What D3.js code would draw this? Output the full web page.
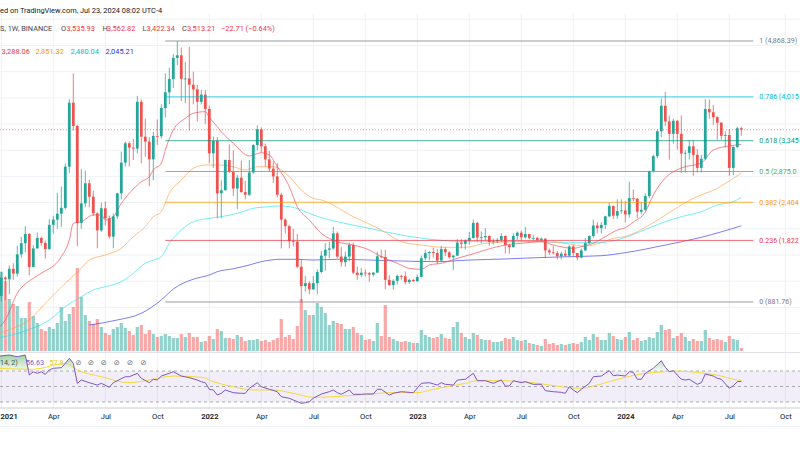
<!DOCTYPE html>
<html><head><meta charset="utf-8">
<script src="https://cdn.jsdelivr.net/npm/d3@7"></script>
<style>
html,body{margin:0;padding:0;background:#fff;}
svg{display:block;font-family:Roboto,"Liberation Sans",sans-serif;}
</style></head>
<body><svg id="c" width="800" height="450"></svg>
<script>
// ---------------- DATA ----------------
const firstWeekStart = "2021-01-04";
const firstOpen = 975;
const closes = [1255,1230,1390,1315,1610,1780,1920,1415,1700,1860,
1785,1690,2060,2140,2230,2320,2948,3926,3570,2090,
2389,2695,2490,2236,1975,2313,2160,1880,2190,2542,
3010,3306,3240,3225,3940,3407,3331,3061,3418,3414,
3845,4085,4288,4610,4650,4290,4295,4200,4130,3940,
4050,3830,3153,3341,2542,2590,3050,2870,2615,2780,
2560,2520,2860,3280,3520,3260,3060,2920,2800,2520,
2140,2040,1810,1805,1420,1125,1170,1075,1170,1340,
1590,1680,1700,1930,1575,1490,1575,1752,1330,1295,
1330,1320,1300,1330,1580,1570,1220,1140,1205,1280,
1275,1185,1220,1200,1265,1550,1628,1645,1630,1515,
1690,1640,1565,1590,1790,1770,1820,1860,2090,1865,
1870,1890,1800,1810,1830,1890,1750,1720,1890,1940,
1870,1920,1860,1860,1830,1850,1670,1640,1630,1580,
1620,1590,1730,1630,1560,1670,1780,1890,2050,2010,
2060,2190,2350,2200,2270,2280,2220,2470,2460,2260,
2290,2500,2880,3110,3490,3880,3640,3450,3650,3450,
3150,3160,3260,3130,2930,3070,3830,3780,3705,3620,
3420,3433,2930,3250,3535.93,3513.21];
const highs = [1350,1275,1440,1475,1745,1875,2040,1935,1750,1945,
1880,1820,2145,2200,2550,2645,3000,3980,4372,3590,
2910,2890,2750,2580,2250,2400,2420,2200,2230,2550,
3180,3335,3335,3375,4030,3975,3680,3400,3480,3670,
3900,4375,4460,4666,4868.39,4770,4550,4780,4400,4200,
4120,4120,3880,3410,3400,2740,3060,3290,3200,2820,
3040,2730,3050,3290,3580,3550,3300,3190,3030,3000,
2550,2160,2060,2000,1920,1530,1280,1200,1280,1380,
1660,1780,1800,2030,1960,1720,1650,1790,1790,1420,
1400,1380,1340,1340,1650,1680,1680,1290,1230,1300,
1300,1350,1240,1230,1300,1590,1680,1660,1710,1690,
1740,1720,1660,1600,1840,1840,1840,1950,2140,2110,
1960,2010,1900,1850,1860,1930,1900,1760,1930,1960,
1975,2030,1920,1900,1880,1870,1850,1700,1740,1660,
1650,1680,1750,1750,1630,1700,1860,1900,2140,2100,
2100,2200,2400,2350,2450,2450,2420,2720,2600,2470,
2400,2540,2890,3130,3520,3990,4093,3730,3680,3660,
3730,3200,3355,3350,3220,3130,3980,3975,3890,3720,
3630,3490,3520,3260,3560,3562.82];
const lows = [890,910,1000,1220,1270,1560,1640,1290,1410,1700,
1740,1545,1680,1930,2000,2030,2300,2850,3500,1735,
2000,2330,2330,2200,1702,1950,2050,1850,1702,2150,
2450,2950,2950,3050,3150,3000,3100,2650,2740,3280,
3380,3700,3900,4150,4500,3950,3920,3500,3900,3640,
3900,3600,3000,2930,2160,2160,2580,2850,2500,2300,
2550,2450,2500,2840,3200,3170,2950,2880,2700,2480,
1700,1930,1700,1730,1400,881.76,1040,1000,1070,1000,
1320,1360,1550,1680,1550,1420,1420,1500,1310,1220,
1260,1270,1190,1270,1330,1550,1080,1130,1070,1150,
1220,1150,1160,1185,1190,1260,1520,1520,1560,1460,
1490,1580,1540,1370,1580,1700,1690,1760,1850,1800,
1780,1820,1740,1760,1780,1800,1625,1620,1710,1830,
1820,1850,1840,1820,1810,1810,1550,1600,1610,1530,
1530,1570,1570,1580,1520,1550,1660,1770,1860,1930,
1930,2000,2180,2150,2150,2230,2100,2170,2420,2165,
2220,2270,2470,2860,3080,3400,3570,3056,3300,3210,
2850,2860,3060,2810,2860,2860,3050,3680,3590,3360,
3360,3240,2810,2820,3230,3422.34];
// weekly volume (hundred-thousand ETH)
const volumes = [79,70,52,47,45,33,33,49,35,28,
22,20,24,22,28,44,30,37,44,83,
54,36,30,27,32,24,18,16,22,24,
28,23,20,16,24,26,17,21,17,14,
15,17,15,13,13,17,14,18,14,14,
9,10,15,12,22,20,13,13,12,16,
14,10,11,11,12,10,11,9,11,13,
32,14,16,12,25,52,41,36,36,48,
44,38,26,30,28,27,22,22,24,18,
16,11,12,10,28,15,46,14,12,10,
9,10,9,8,8,21,16,14,13,14,
17,13,12,24,29,18,14,12,18,16,
12,11,11,9,9,10,13,12,14,11,
10,11,8,7,6,5,12,7,8,6,
7,6,7,8,7,9,14,11,17,14,
11,11,18,15,12,11,14,19,11,13,
10,11,14,13,19,26,21,22,13,15,
18,14,10,12,10,10,21,13,11,12,
11,9,15,12,11,3];
// moving averages [week index, value]
const maRed = [[-1,470],[1,607],[4,1015],[8,1244],[10,1320],[15,1574],[17,1829],[18,2084],[20,2108],[23,2211],[25,2211],[26,2134],[28,2185],[30,2389],[32,2542],[35,2719],[37,2796],[38,2898],[40,3000],[41,3204],[43,3509],[46,3688],[48,3764],[51,3789],[52,3703],[54,3559],[55,3483],[58,3306],[62,3112],[63,3127],[65,3162],[67,3127],[69,2948],[72,2643],[74,2337],[77,2134],[80,1931],[84,1803],[88,1752],[92,1676],[95,1574],[99,1473],[102,1396],[105,1381],[107,1447],[110,1473],[114,1549],[117,1600],[121,1676],[126,1752],[130,1778],[135,1803],[138,1752],[143,1702],[145,1727],[148,1778],[151,1879],[154,1981],[156,2016],[158,2104],[161,2256],[163,2516],[166,2776],[170,2929],[175,3005],[178,3203],[182,3265],[185,3288.06]];
const maOrange = [[-1,400],[3,480],[7,607],[11,862],[16,1168],[20,1396],[22,1523],[26,1600],[30,1702],[33,1879],[36,2032],[38,2185],[40,2261],[42,2542],[45,2745],[48,2923],[51,2974],[54,2974],[58,2948],[61,2898],[64,2948],[68,2948],[72,2796],[75,2592],[78,2465],[80,2440],[88,2185],[95,1981],[100,1803],[105,1752],[111,1717],[116,1717],[121,1778],[130,1803],[136,1803],[142,1768],[146,1737],[150,1788],[153,1855],[156,1880],[162,2058],[168,2287],[173,2466],[179,2618],[183,2771],[185,2851.32]];
const maCyan = [[-1,330],[6,440],[12,607],[16,810],[20,963],[23,1065],[26,1116],[30,1192],[33,1320],[36,1473],[38,1523],[40,1574],[42,1778],[45,1981],[48,2108],[52,2160],[55,2185],[59,2236],[63,2313],[67,2338],[69,2348],[72,2338],[75,2287],[78,2211],[84,2108],[92,2007],[100,1905],[109,1829],[117,1803],[125,1803],[134,1803],[142,1788],[150,1790],[156,1868],[161,1990],[166,2108],[170,2185],[175,2261],[179,2364],[183,2414],[185,2480.04]];
const maBlue = [[22,530],[29,607],[35,709],[40,913],[43,1080],[48,1230],[52,1294],[54,1345],[58,1390],[62,1447],[65,1498],[70,1534],[74,1534],[78,1523],[84,1534],[92,1523],[100,1508],[109,1498],[117,1523],[126,1539],[134,1559],[142,1574],[150,1589],[156,1635],[166,1752],[175,1870],[185,2045.21]];
// RSI (14) and its SMA, [week index, value]
const rsiValues = [[-1,89],[2,90.6],[4,88.5],[6,90.6],[7,64.8],[8,69],[9,67],[10,69],[11,65.7],[12,71.3],[13,73.5],[15,74.3],[16,79.9],[17,86.4],[18,80],[19,54],[20,58.4],[22,54.9],[24,51.9],[25,54.1],[27,49],[28,54.9],[31,62.6],[32,62.6],[34,67],[35,60.6],[37,54.9],[38,59.3],[39,58.4],[40,63.5],[42,67],[43,69.1],[45,63.5],[47,61.4],[49,58.4],[50,56.2],[51,54.9],[52,46.4],[53,45.5],[54,39],[55,41.2],[56,45.5],[58,42],[60,41.2],[61,41.2],[62,47.7],[64,54.9],[65,49.7],[67,46.4],[69,43.3],[70,36.8],[72,34.8],[73,32.6],[75,28.3],[76,29.1],[77,30.4],[78,34.8],[80,40.3],[82,43.3],[83,45.5],[84,42],[85,39.9],[87,45.5],[88,39.9],[90,39.9],[91,40.3],[93,40.3],[94,46.4],[95,46.4],[97,39],[98,41.2],[100,43.3],[103,42],[105,54.1],[107,54.9],[109,51.9],[110,54.9],[111,52.8],[113,51.9],[114,58.4],[116,59.3],[118,67],[119,57.5],[121,57.5],[123,54.1],[125,58.4],[126,50.6],[127,50.6],[128,57.5],[130,54.9],[131,56.2],[133,52.8],[135,52.8],[136,44.6],[138,43.3],[140,42.5],[141,41.2],[142,49.7],[143,45.5],[144,42],[145,46.4],[147,54.1],[148,62.6],[150,63.5],[151,67],[152,70.4],[153,63.9],[154,64.8],[156,63.5],[157,69.1],[158,68.3],[159,59.3],[160,59.3],[161,67],[163,73.5],[165,83.3],[166,74.8],[167,69.1],[168,70.4],[170,59.3],[171,58.4],[172,59.3],[174,52.8],[175,54.9],[176,66.1],[178,63.5],[179,60.6],[180,59.3],[182,47.7],[183,51],[184,56.2],[185,56.63]];
const rsiSma = [[-1,73.5],[8,72.2],[16,79.9],[19,71.3],[25,62.6],[32,54.9],[37,58.4],[43,63.5],[50,61.9],[53,56.2],[58,49.7],[63,45.5],[68,45.5],[73,41.2],[78,36.1],[83,36.8],[91,39.9],[100,42.5],[104,42],[108,46.4],[116,54.1],[119,57.5],[125,57.5],[130,56.2],[133,54.9],[137,51.9],[141,49],[145,47.7],[148,50.6],[152,56.2],[156,61.9],[161,67],[166,69.1],[169,70],[172,69.1],[176,67],[180,63.5],[183,59.3],[185,57.8]];
// Fibonacci retracement
const fibLow = 881.76, fibHigh = 4868.39;
const fibLevels = [1, 0.786, 0.618, 0.5, 0.382, 0.236, 0];
const fibColors = ["#787b86","#00bcd4","#089981","#4caf50","#ff9800","#f23645","#787b86"];
const fibStartWeek = 41, fibEndWeek = 188;
// axes
const tickDates = ["2021-01-04","2021-04-05","2021-07-05","2021-10-04","2022-01-03","2022-04-04","2022-07-04","2022-10-03","2023-01-02","2023-04-03","2023-07-03","2023-10-02","2024-01-01","2024-04-01","2024-07-01","2024-10-07"];
const tickLabels = ["2021","Apr","Jul","Oct","2022","Apr","Jul","Oct","2023","Apr","Jul","Oct","2024","Apr","Jul","Oct"];
const priceGrid = [400,800,1200,1600,2000,2400,2800,3200,3600,4000,4400,4800,5200];
const rsiLevels = [70,50,30];
// legend
const headerLine = "ed on TradingView.com, Jul 23, 2024 08:02 UTC-4";
const symbolText = "S, 1W, BINANCE";
const ohlcKeys = ["O","H","L","C"];
const ohlcVals = [3535.93,3562.82,3422.34,3513.21];
const changeText = "\u221222.71 (\u22120.64%)";
const maLegend = [3288.06,2851.32,2480.04,2045.21];
const maColors = ["#f23645","#ff9800","#00bcd4","#3030d8"];
const rsiLegend = ["14, 2)", "56.63", "57.8"];
const lastPrice = 3513.21;

// ---------------- CHART ----------------
const svg = d3.select("#c");
const W = 800;
const paneTop = 14, paneBottom = 352, rsiTop = 353, rsiBottom = 408;
const UP = "#26a69a", DOWN = "#ef5350";
const parse = d3.utcParse("%Y-%m-%d");
const start = parse(firstWeekStart);
const wk = i => d3.utcDay.offset(start, Math.round(7 * i));

const x = d3.scaleUtc().domain([parse("2021-01-04"), parse("2024-01-01")]).range([1.3, 625.3]);
const y = d3.scaleLinear().domain([fibLow, fibHigh]).range([302, 41]);
const yV = d3.scaleLinear().domain([0, 100]).range([351, 251]);
const yR = d3.scaleLinear().domain([30, 70]).range([402, 371]);
const fmt = d3.format(",.2f");

const defs = svg.append("defs");
defs.append("clipPath").attr("id","mainClip").append("rect").attr("x",0).attr("y",paneTop).attr("width",W).attr("height",paneBottom-paneTop);
defs.append("clipPath").attr("id","rsiClip").append("rect").attr("x",0).attr("y",rsiTop).attr("width",W).attr("height",rsiBottom-rsiTop);
defs.append("clipPath").attr("id","obClip").append("rect").attr("x",0).attr("y",rsiTop).attr("width",W).attr("height",yR(70)-rsiTop);
defs.append("clipPath").attr("id","osClip").append("rect").attr("x",0).attr("y",yR(30)).attr("width",W).attr("height",rsiBottom-yR(30));
const gOb = defs.append("linearGradient").attr("id","obGrad").attr("gradientUnits","userSpaceOnUse")
  .attr("x1",0).attr("x2",0).attr("y1",yR(100)).attr("y2",yR(70));
gOb.append("stop").attr("offset","0%").attr("stop-color","#4caf50").attr("stop-opacity",0.75);
gOb.append("stop").attr("offset","100%").attr("stop-color","#4caf50").attr("stop-opacity",0.05);
const gOs = defs.append("linearGradient").attr("id","osGrad").attr("gradientUnits","userSpaceOnUse")
  .attr("x1",0).attr("x2",0).attr("y1",yR(30)).attr("y2",yR(0));
gOs.append("stop").attr("offset","0%").attr("stop-color","#f23645").attr("stop-opacity",0.05);
gOs.append("stop").attr("offset","100%").attr("stop-color","#f23645").attr("stop-opacity",0.75);

// grid
const grid = svg.append("g");
grid.selectAll("line.v").data(tickDates).join("line")
  .attr("x1",d=>x(parse(d))).attr("x2",d=>x(parse(d)))
  .attr("y1",paneTop).attr("y2",rsiBottom).attr("stroke","#eef1f6").attr("stroke-width",1);
grid.selectAll("line.h").data(priceGrid).join("line")
  .attr("x1",0).attr("x2",W).attr("y1",d=>y(d)).attr("y2",d=>y(d))
  .attr("stroke","#eef1f6").attr("stroke-width",1);

// candles data
const bars = closes.map((c,i)=>({i, d: wk(i), o: i ? closes[i-1] : firstOpen, h: highs[i], l: lows[i], c, v: volumes[i]}));

const main = svg.append("g").attr("clip-path","url(#mainClip)");
// volume
main.append("g").selectAll("rect").data(bars).join("rect")
  .attr("x",d=>x(d.d)-1.6).attr("width",3.2)
  .attr("y",d=>yV(d.v)).attr("height",d=>yV(0)-yV(d.v))
  .attr("fill",d=>d.c>=d.o?UP:DOWN).attr("fill-opacity",0.5);

// moving averages
const maLine = d3.line().x(d=>x(wk(d[0]))).y(d=>y(d[1])).curve(d3.curveMonotoneX);
[[maBlue,"#4646f0",0.7],[maCyan,"#18e0f0",0.6],[maOrange,"#ff9a3c",0.6],[maRed,"#f23645",0.6]].forEach(([arr,col,op])=>{
  main.append("path").datum(arr).attr("d",maLine).attr("fill","none")
    .attr("stroke",col).attr("stroke-opacity",op).attr("stroke-width",1);
});

// candles
const cg = main.append("g");
cg.selectAll("line").data(bars).join("line")
  .attr("x1",d=>x(d.d)).attr("x2",d=>x(d.d))
  .attr("y1",d=>y(d.h)).attr("y2",d=>y(d.l))
  .attr("stroke",d=>d.c>=d.o?UP:DOWN).attr("stroke-width",0.9).attr("stroke-opacity",0.85);
cg.selectAll("rect").data(bars).join("rect")
  .attr("x",d=>x(d.d)-1.4).attr("width",2.8)
  .attr("y",d=>y(Math.max(d.o,d.c)))
  .attr("height",d=>Math.max(0.8, Math.abs(y(d.o)-y(d.c))))
  .attr("fill",d=>d.c>=d.o?UP:DOWN);

// fib lines
const fib = svg.append("g");
const fx0 = x(wk(fibStartWeek)), fx1 = x(wk(fibEndWeek));
fibLevels.forEach((lv,k)=>{
  const p = fibLow + lv*(fibHigh-fibLow);
  fib.append("line").attr("x1",fx0).attr("x2",fx1).attr("y1",y(p)).attr("y2",y(p))
    .attr("stroke",fibColors[k]).attr("stroke-width",1).attr("stroke-opacity",0.75);
  const t = fib.append("text").attr("x",fx1+6).attr("y",y(p)).attr("dy","0.35em")
    .attr("font-size","7.1px").attr("fill",fibColors[k]);
  // the label runs into the right edge of the picture: keep the part that fits
  let s = `${lv} (${fmt(p)})`;
  t.text(s);
  while (s.length > 1 && fx1 + 6 + t.node().getComputedTextLength() > 799.8) {
    s = s.slice(0, -1);
    t.text(s);
  }
});

// last price dotted line
svg.append("line").attr("x1",0).attr("x2",W).attr("y1",y(lastPrice)).attr("y2",y(lastPrice))
  .attr("stroke","#f23645").attr("stroke-opacity",0.55).attr("stroke-width",1).attr("stroke-dasharray","1,2");

// pane separators
svg.append("line").attr("x1",0).attr("x2",W).attr("y1",352.5).attr("y2",352.5).attr("stroke","#e0e3eb");
svg.append("line").attr("x1",0).attr("x2",W).attr("y1",408).attr("y2",408).attr("stroke","#c9ccd4");
svg.append("line").attr("x1",0).attr("x2",W).attr("y1",426.5).attr("y2",426.5).attr("stroke","#f0f3fa");

// RSI pane
const rsiG = svg.append("g").attr("clip-path","url(#rsiClip)");
rsiG.append("rect").attr("x",0).attr("width",W).attr("y",yR(70)).attr("height",yR(30)-yR(70))
  .attr("fill","#7e57c2").attr("fill-opacity",0.1);
rsiG.selectAll("line.lv").data(rsiLevels).join("line")
  .attr("x1",0).attr("x2",W).attr("y1",d=>yR(d)).attr("y2",d=>yR(d))
  .attr("stroke","#787b86").attr("stroke-opacity",0.6).attr("stroke-dasharray","3,3");
const rx = d=>x(wk(d[0]));
rsiG.append("path").datum(rsiValues).attr("clip-path","url(#obClip)")
  .attr("d",d3.area().x(rx).y0(yR(70)).y1(d=>yR(d[1])))
  .attr("fill","url(#obGrad)");
rsiG.append("path").datum(rsiValues).attr("clip-path","url(#osClip)")
  .attr("d",d3.area().x(rx).y0(yR(30)).y1(d=>yR(d[1])))
  .attr("fill","url(#osGrad)");
rsiG.append("path").datum(rsiSma).attr("d",d3.line().x(rx).y(d=>yR(d[1])).curve(d3.curveMonotoneX))
  .attr("fill","none").attr("stroke","#f7d83a").attr("stroke-width",1);
rsiG.append("path").datum(rsiValues).attr("d",d3.line().x(rx).y(d=>yR(d[1])))
  .attr("fill","none").attr("stroke","#7e57c2").attr("stroke-width",1);

// RSI legend
const rl = svg.append("g").attr("font-size","7.2px");
rl.append("text").attr("x",0).attr("y",364.5).attr("fill","#50535e").text(rsiLegend[0]);
rl.append("text").attr("x",26).attr("y",364.5).attr("fill","#7e57c2").text(rsiLegend[1]);
rl.append("text").attr("x",49.5).attr("y",364.5).attr("fill","#e8c81c").text(rsiLegend[2]);
[78.3,90.9,103.7,116.7,130,143.3].forEach(cx=>{
  rl.append("text").attr("x",cx).attr("y",365).attr("text-anchor","middle")
    .attr("font-family","DejaVu Sans").attr("font-size","7.5px").attr("fill","#6a6d78").text("\u2298");
});

// time axis
const axis = d3.axisBottom(x).tickValues(tickDates.map(parse)).tickFormat((d,i)=>tickLabels[i]).tickSize(0).tickPadding(0);
const ax = svg.append("g").attr("transform","translate(0,414)").call(axis);
ax.select(".domain").remove();
ax.selectAll("text").attr("font-size","7.6px").attr("fill","#131722")
  .attr("font-family","Roboto, sans-serif")
  .attr("font-weight",(d,i)=>/^\d{4}$/.test(tickLabels[i])?"600":"400");
// the first label sits at the left edge: keep it inside the picture
ax.selectAll("text").filter((d,i)=>i===0).attr("text-anchor","start").attr("x",-1.3);

// header
const hd = svg.append("g").attr("font-size","7.4px");
hd.append("text").attr("x",0).attr("y",12.8).attr("fill","#131722").text(headerLine);
hd.append("text").attr("x",0).attr("y",31).attr("fill","#434651").text(symbolText);
const ohX = [[61,66.5],[102.5,107],[142.5,146.5],[182,187]];
ohlcKeys.forEach((k,i)=>{
  hd.append("text").attr("x",ohX[i][0]).attr("y",31).attr("fill","#434651").text(k);
  hd.append("text").attr("x",ohX[i][1]).attr("y",31).attr("fill","#f23645").text(fmt(ohlcVals[i]));
});
hd.append("text").attr("x",221).attr("y",31).attr("fill","#f23645").text(changeText);
const maX = [1.5,35.5,70.5,105.5];
maLegend.forEach((v,i)=>{
  hd.append("text").attr("x",maX[i]).attr("y",53.8).attr("fill",maColors[i]).text(fmt(v));
});
</script></body></html>
